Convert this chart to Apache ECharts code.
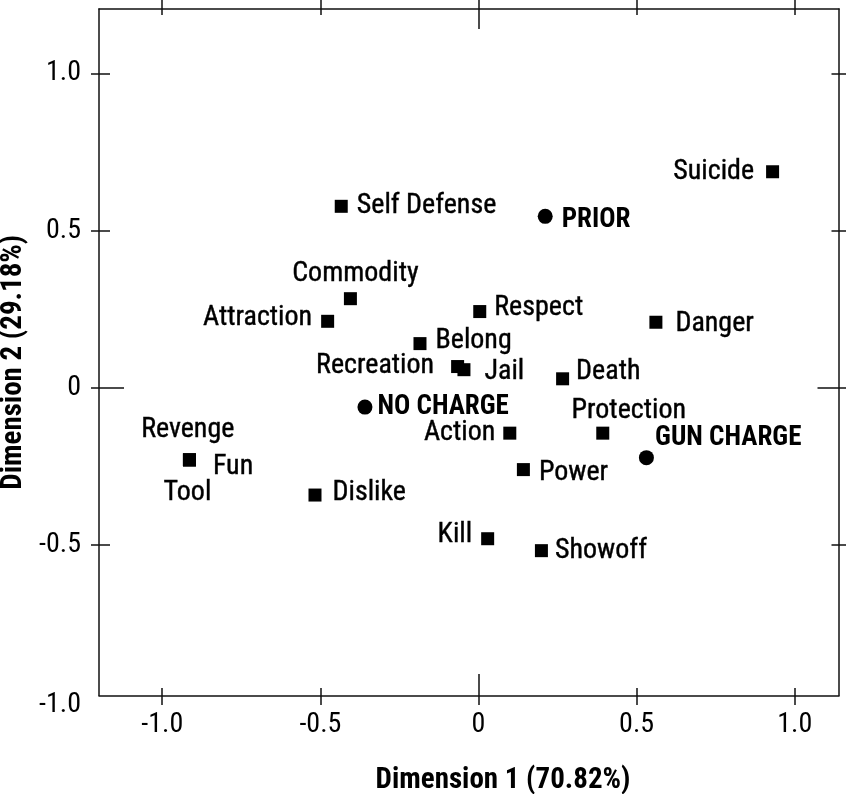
<!DOCTYPE html>
<html>
<head>
<meta charset="utf-8">
<title>Correspondence map</title>
<script src="https://cdn.jsdelivr.net/npm/echarts@6/dist/echarts.min.js"></script>
<style>
  html, body { margin: 0; padding: 0; background: #fff; }
  #chart { width: 846px; height: 794px; }
</style>
</head>
<body>
<div id="chart"></div>
<script>
// Word categories (square markers)
const wordNames = ['Suicide', 'Danger', 'Self Defense', 'Commodity', 'Attraction', 'Respect',
  'Belong', 'Recreation', 'Jail', 'Death', 'Action', 'Protection', 'Power', 'Dislike',
  'Kill', 'Showoff', 'Revenge', 'Fun', 'Tool'];
const wordDim1 = [0.930, 0.561, -0.434, -0.405, -0.477, 0.004,
  -0.185, -0.066, -0.046, 0.266, 0.099, 0.393, 0.142, -0.517,
  0.029, 0.199, -0.914, -0.914, -0.914];
const wordDim2 = [0.687, 0.208, 0.577, 0.283, 0.211, 0.242,
  0.140, 0.067, 0.057, 0.028, -0.145, -0.145, -0.261, -0.342,
  -0.481, -0.519, -0.230, -0.230, -0.230];

// Offender groups (circle markers)
const groupNames = ['PRIOR', 'NO CHARGE', 'GUN CHARGE'];
const groupDim1 = [0.211, -0.359, 0.531];
const groupDim2 = [0.545, -0.062, -0.223];

// Axis ticks
const xTicks = [-1.0, -0.5, 0, 0.5, 1.0];
const yTicks = [-0.5, 0, 0.5, 1.0];
const yLowLabel = -1.0;

const xTitle = 'Dimension 1 (70.82%)';
const yTitle = 'Dimension 2 (29.18%)';

// Layout
const FONT = "'Liberation Sans Narrow', 'Arial Narrow', 'Nimbus Sans Narrow', 'Roboto Condensed', 'Liberation Sans', sans-serif";
const INK = '#000';
const GRID = { left: 99, right: 7, top: 9, bottom: 98.5 };
const X_RANGE = [-1.2, 1.14];
const Y_RANGE = [-0.98, 1.205];

// Where each point label sits relative to its marker
const labelPlace = {
  'Suicide':      { position: 'left',   distance: 12,  offset: [0, 0] },
  'Danger':       { position: 'right',  distance: 13,  offset: [0, 2] },
  'Self Defense': { position: 'right',  distance: 9,   offset: [0, 0] },
  'Commodity':    { position: 'top',    distance: 4.5, offset: [5, 0] },
  'Attraction':   { position: 'left',   distance: 9,   offset: [0, -3] },
  'Respect':      { position: 'right',  distance: 8,   offset: [0, -3.4] },
  'Belong':       { position: 'right',  distance: 9,   offset: [0, -2.7] },
  'Recreation':   { position: 'left',   distance: 17,  offset: [0, -1] },
  'Jail':         { position: 'right',  distance: 14,  offset: [0, 2.8] },
  'Death':        { position: 'right',  distance: 7,   offset: [0, -7] },
  'Action':       { position: 'left',   distance: 8,   offset: [0, 0] },
  'Protection':   { position: 'top',    distance: 1.5, offset: [26, 0] },
  'Power':        { position: 'right',  distance: 9,   offset: [0, 3.6] },
  'Dislike':      { position: 'right',  distance: 11,  offset: [0, -1.7] },
  'Kill':         { position: 'left',   distance: 9,   offset: [0, -3.8] },
  'Showoff':      { position: 'right',  distance: 7,   offset: [0, 0] },
  'Revenge':      { position: 'top',    distance: 9.5, offset: [-1.7, 0] },
  'Fun':          { position: 'right',  distance: 17,  offset: [0, 7.5] },
  'Tool':         { position: 'bottom', distance: 12.5, offset: [-2, 0] },
  'PRIOR':        { position: 'right',  distance: 9,   offset: [0, 3.5] },
  'NO CHARGE':    { position: 'right',  distance: 5,   offset: [0, 0] },
  'GUN CHARGE':   { position: 'right',  distance: 1.2, offset: [0, -19] }
};

function buildPoints(names, d1, d2) {
  return names.map((n, i) => ({
    name: n,
    value: [d1[i], d2[i]],
    label: Object.assign({}, labelPlace[n])
  }));
}

const lineStyle = { color: '#111', width: 1.5, opacity: 1 };
const tickFmt = v => (v === 0 ? '0' : v.toFixed(1));

// One layer of an axis frame side: line, ticks (outward or inward), labels
function sideAxis(dim, position, opt) {
  const range = dim === 'x' ? X_RANGE : Y_RANGE;
  const values = opt.values;
  return {
    type: 'value',
    position: position,
    min: range[0],
    max: range[1],
    silent: true,
    axisLine: { show: !!opt.line, onZero: false, lineStyle: lineStyle },
    axisTick: {
      show: true, inside: !!opt.inside, length: opt.len,
      customValues: values, lineStyle: lineStyle
    },
    axisLabel: opt.label ? {
      show: true, customValues: values, formatter: tickFmt,
      margin: opt.margin, fontFamily: FONT, fontSize: 28, color: INK
    } : { show: false },
    splitLine: { show: false },
    name: opt.name || '',
    nameLocation: 'middle',
    nameGap: opt.nameGap || 0,
    nameRotate: opt.nameRotate,
    nameTextStyle: {
      fontFamily: FONT, fontSize: 29, fontWeight: 'bold', color: INK,
      padding: opt.namePadding || 0
    }
  };
}

const chart = echarts.init(document.getElementById('chart'), null, { renderer: 'canvas' });

const option = {
  animation: false,
  backgroundColor: '#fff',
  grid: Object.assign({ containLabel: false, outerBoundsMode: 'none' }, GRID),
  xAxis: [
    sideAxis('x', 'bottom', { values: xTicks, len: 9.5, line: true, label: true, margin: 15.5,
      name: xTitle, nameGap: 71, namePadding: [0, 0, 0, 68] }),
    sideAxis('x', 'bottom', { values: xTicks, len: 7.5, inside: true }),
    sideAxis('x', 'bottom', { values: [0], len: 21.5, inside: true }),
    sideAxis('x', 'top', { values: xTicks, len: 10, line: true }),
    sideAxis('x', 'top', { values: xTicks, len: 6, inside: true }),
    sideAxis('x', 'top', { values: [0], len: 20, inside: true })
  ],
  yAxis: [
    sideAxis('y', 'left', { values: yTicks, len: 8, line: true, label: true, margin: 18,
      name: yTitle, nameGap: 56, nameRotate: 90, namePadding: [0, 20, 0, 0] }),
    sideAxis('y', 'left', { values: yTicks, len: 11, inside: true }),
    sideAxis('y', 'left', { values: [0], len: 25, inside: true }),
    sideAxis('y', 'right', { values: yTicks, len: 8, line: true }),
    sideAxis('y', 'right', { values: yTicks, len: 7.5, inside: true }),
    sideAxis('y', 'right', { values: [0], len: 21.5, inside: true })
  ],
  series: [
    {
      name: 'Words',
      type: 'scatter',
      xAxisIndex: 0,
      yAxisIndex: 0,
      symbol: 'rect',
      symbolSize: 13,
      itemStyle: { color: '#000', opacity: 1 },
      label: {
        show: true, formatter: '{b}', fontFamily: FONT, fontSize: 28, color: INK,
        opacity: 1, textBorderColor: INK, textBorderWidth: 0.4
      },
      emphasis: { disabled: true },
      data: buildPoints(wordNames, wordDim1, wordDim2)
    },
    {
      name: 'Groups',
      type: 'scatter',
      xAxisIndex: 0,
      yAxisIndex: 0,
      symbol: 'circle',
      symbolSize: 15,
      itemStyle: { color: '#000', opacity: 1 },
      label: {
        show: true, formatter: '{b}', fontFamily: FONT, fontSize: 27,
        fontWeight: 'bold', color: INK, opacity: 1
      },
      emphasis: { disabled: true },
      data: buildPoints(groupNames, groupDim1, groupDim2)
    }
  ]
};

chart.setOption(option);

// The lowest y label sits just below the frame, so place it through the y scale
const yLow = chart.convertToPixel({ yAxisIndex: 0 }, yLowLabel);
chart.setOption({
  graphic: [{
    type: 'text',
    x: GRID.left - 18,
    y: yLow + 3,
    silent: true,
    style: {
      text: tickFmt(yLowLabel),
      align: 'right',
      verticalAlign: 'middle',
      fontFamily: FONT,
      fontSize: 28,
      fill: INK
    }
  }]
});
</script>
</body>
</html>
